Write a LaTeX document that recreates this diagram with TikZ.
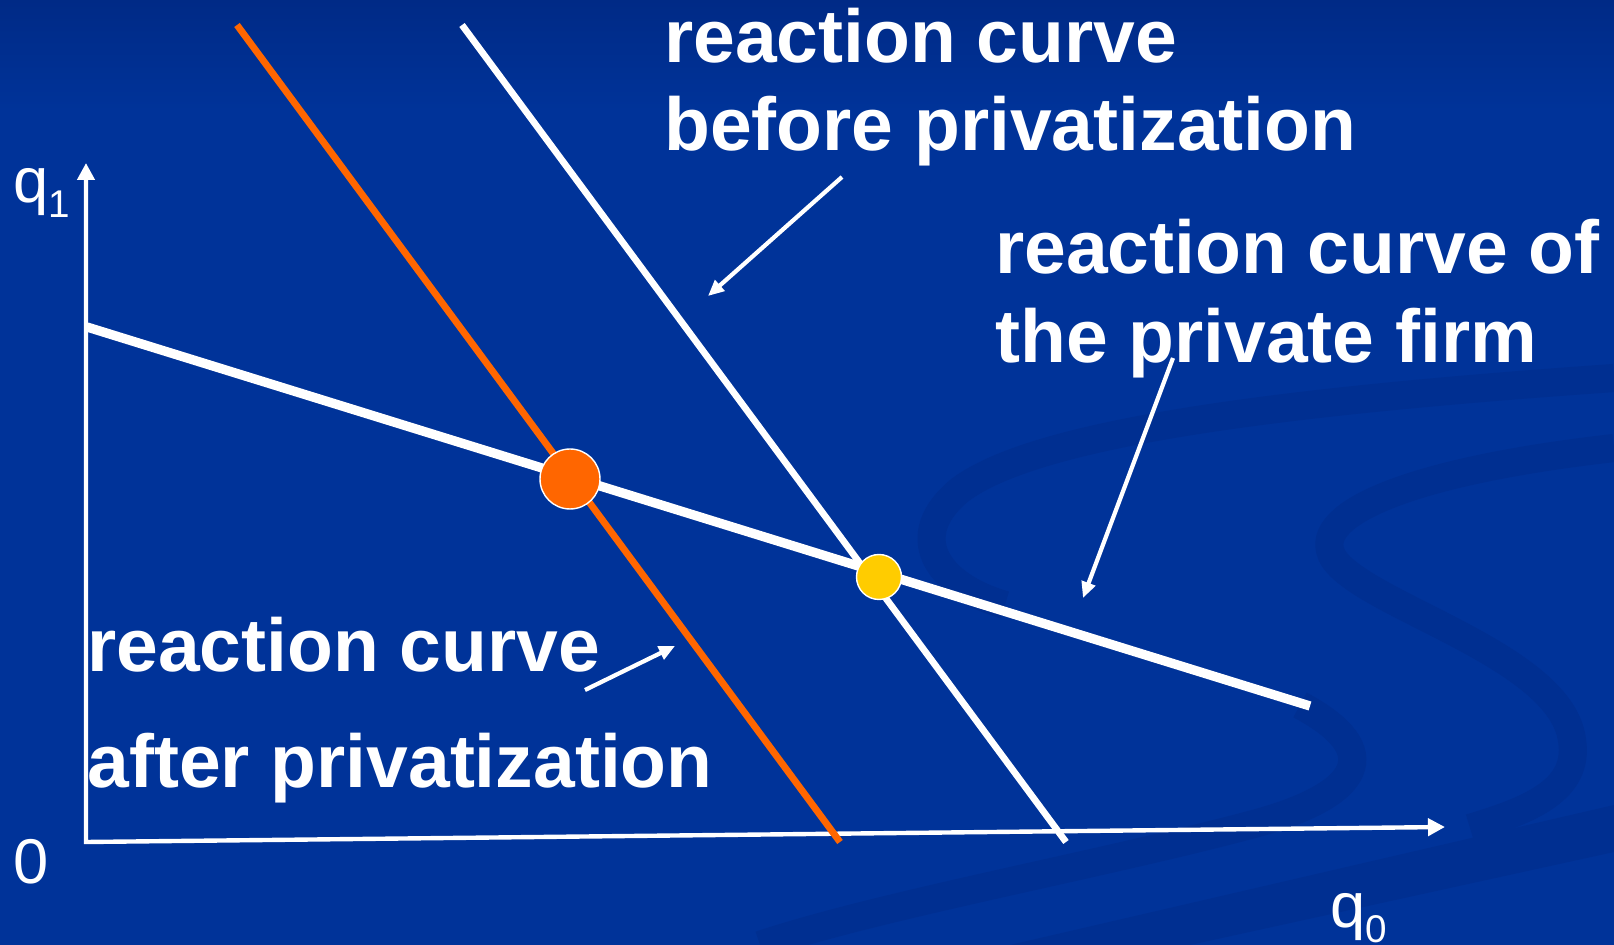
\documentclass[tikz,border=0pt]{standalone}
\usepackage{fontspec}
\setmainfont{Liberation Sans}
\usepackage{tikz}
\usetikzlibrary{arrows.meta, positioning}
\definecolor{slideblue}{RGB}{0,51,153}
\definecolor{slidetop}{RGB}{0,42,134}
\definecolor{swirlblue}{RGB}{0,47,145}
\definecolor{afterorange}{RGB}{255,102,0}
\definecolor{dotyellow}{RGB}{255,204,0}
\tikzstyle{curvelabel} = [anchor=base west, inner sep=0pt, text=white, font=\fontsize{42.7}{50}\selectfont\bfseries]
\tikzstyle{axislabel} = [anchor=base west, inner sep=0pt, text=white, font=\fontsize{36}{43}\selectfont]
\tikzstyle{pointer} = [white, line width=2.4pt, -{Triangle[length=0.32cm, width=0.28cm]}]
\tikzstyle{axis} = [white, line width=2.5pt, {Triangle[length=0.34cm, width=0.34cm]}-{Triangle[length=0.34cm, width=0.34cm]}]
\tikzstyle{eqdot} = [circle, draw=white, line width=0.8pt, inner sep=0pt]
\tikzstyle{swirl} = [swirlblue, line width=16pt]
\newcommand{\subidx}[1]{{\fontsize{22}{22}\selectfont\raisebox{-8pt}{#1}}}

\begin{document}
\begin{tikzpicture}[x=0.02cm, y=-0.02cm]

% ===== SLIDE BACKGROUND =====
\useasboundingbox (0,0) rectangle (1614,945);
\fill[slideblue] (0,0) rectangle (1614,945);
\shade[top color=slidetop, bottom color=slideblue] (0,0) rectangle (1614,110);
\draw[swirl] (1614,378) .. controls (1300,400) and (1040,430) .. (960,490) .. controls (905,535) and (935,585) .. (1005,605);
\draw[swirl] (1300,705) .. controls (1385,750) and (1365,795) .. (1250,825) .. controls (1100,865) and (880,905) .. (760,945);
\draw[swirl] (1614,448) .. controls (1420,470) and (1320,510) .. (1330,550) .. controls (1340,600) and (1560,650) .. (1572,740) .. controls (1580,790) and (1530,810) .. (1470,828);
\fill[swirlblue] (1010,945) -- (1614,805) -- (1614,852) -- (1190,945) -- cycle;

% ===== AXES =====
\coordinate (orig) at (86,842);
\coordinate (ytip) at (86,163);
\coordinate (xtip) at (1445,827);
\draw[axis] (ytip) -- (orig) -- (xtip);

\node (qone) [axislabel] at (13,203) {q\subidx{1}};
\node (qzero) [axislabel] at (1330,928) {q\subidx{0}};
\node (zero) [axislabel] at (13,884) {0};

% ===== REACTION CURVES =====
\coordinate (afterA) at (237,25);
\coordinate (afterB) at (840,842);
\coordinate (beforeA) at (462,25);
\coordinate (beforeB) at (1066,842);
\coordinate (privA) at (87,327);
\coordinate (privB) at (1310,706);

\draw[afterorange, line width=3.9pt] (afterA) -- (afterB);
\draw[white, line width=3.8pt] (beforeA) -- (beforeB);
\draw[white, line width=5.3pt] (privA) -- (privB);

% ===== EQUILIBRIA =====
\node (eqafter) [eqdot, fill=afterorange, minimum size=1.2cm] at (570,479) {};
\node (eqbefore) [eqdot, fill=dotyellow, minimum size=0.9cm] at (879,577) {};

% ===== LABELS =====
\node (lblbefore) [curvelabel] at (664,63) {reaction curve};
\node (lblbefore2) [curvelabel] at ([yshift=-50pt]lblbefore.base west) {before privatization};

\node (lblprivate) [curvelabel] at (995,274) {reaction curve of};
\node (lblprivate2) [curvelabel] at ([yshift=-50.5pt]lblprivate.base west) {the private firm};

\node (lblafter) [curvelabel] at (87,672) {reaction curve};
\node (lblafter2) [curvelabel] at ([yshift=-65.5pt]lblafter.base west) {after privatization};

% ===== POINTERS =====
\coordinate (ptrbefore) at (842,177);
\coordinate (ptrbeforetip) at (708,296);
\coordinate (ptrprivate) at (1173,358);
\coordinate (ptrprivatetip) at (1083,598);
\coordinate (ptrafter) at (585,690);
\coordinate (ptraftertip) at (675,646);

\draw[pointer] (ptrbefore) -- (ptrbeforetip);
\draw[pointer] (ptrprivate) -- (ptrprivatetip);
\draw[pointer] (ptrafter) -- (ptraftertip);

\end{tikzpicture}
\end{document}
